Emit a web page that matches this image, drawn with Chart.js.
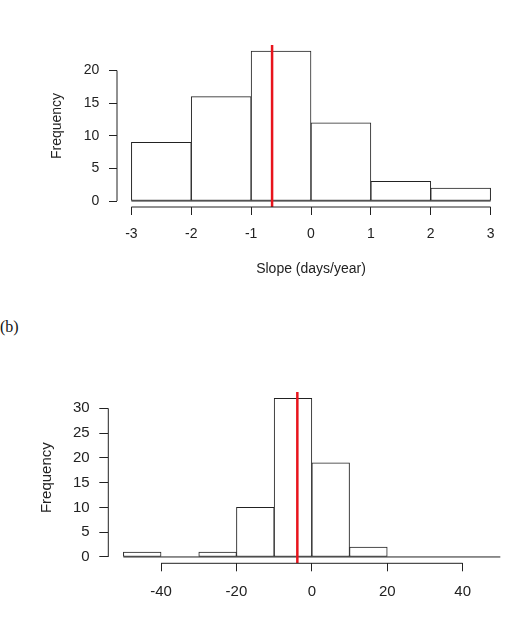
<!DOCTYPE html>
<html><head><meta charset="utf-8">
<script src="https://cdn.jsdelivr.net/npm/chart.js@4"></script>
<style>
html,body{margin:0;padding:0;background:#fff;overflow:hidden;width:510px;height:622px;position:relative;}
.wrap{position:absolute;left:0;}
#b{position:absolute;left:0;top:318px;font:16px 'Liberation Serif','Times New Roman',serif;line-height:18px;color:#111;}
</style></head><body>
<div class="wrap" style="top:0;width:510px;height:300px"><canvas id="c1" width="510" height="300" style="width:510px;height:300px"></canvas></div>
<div id="b">(b)</div>
<div class="wrap" style="top:300px;width:520px;height:322px"><canvas id="c2" width="520" height="322" style="width:520px;height:322px"></canvas></div>
<script>
// ---- Data ----
const topBinEdges = [-3, -2, -1, 0, 1, 2, 3];
const topCounts   = [9, 16, 23, 12, 3, 2];
const topMean     = -0.65;
const topXTicks   = [-3, -2, -1, 0, 1, 2, 3];
const topYTicks   = [0, 5, 10, 15, 20];
const topXTitle   = 'Slope (days/year)';
const topYTitle   = 'Frequency';

const botBinEdges = [-50, -40, -30, -20, -10, 0, 10, 20, 30, 40, 50];
const botCounts   = [1, 0, 1, 10, 32, 19, 2, 0, 0, 0];
const botMean     = -3.85;
const botXTicks   = [-40, -20, 0, 20, 40];
const botYTicks   = [0, 5, 10, 15, 20, 25, 30];
const botYTitle   = 'Frequency';

const INK = '#222';
const FONT = "'Liberation Sans', Arial, Helvetica, sans-serif";

const axisLines = {
  id: 'axisLines',
  afterDraw(chart) {
    const ctx = chart.ctx;
    const xs = chart.scales.x, ys = chart.scales.y;
    ctx.save();
    ctx.strokeStyle = INK;
    ctx.lineWidth = 1;
    const xt = xs.ticks, yt = ys.ticks;
    const xa = xs.getPixelForValue(xt[0].value), xb = xs.getPixelForValue(xt[xt.length - 1].value);
    ctx.beginPath(); ctx.moveTo(xa, xs.top); ctx.lineTo(xb, xs.top); ctx.stroke();
    const ya = ys.getPixelForValue(yt[0].value), yb = ys.getPixelForValue(yt[yt.length - 1].value);
    ctx.beginPath(); ctx.moveTo(ys.right, ya); ctx.lineTo(ys.right, yb); ctx.stroke();
    ctx.restore();
  }
};

function makeHist(id, c) {
  const edges = c.edges, counts = c.counts;
  const lo = edges[0], hi = edges[edges.length - 1], span = hi - lo;
  const xMin = lo - 0.04 * span, xMax = hi + 0.04 * span;
  const maxC = Math.max(...counts);
  const yMin = -0.04 * maxC, yMax = 1.04 * maxC;
  const bars = counts.map((v, i) => ({ x: (edges[i] + edges[i + 1]) / 2, y: v }));
  return new Chart(document.getElementById(id), {
    type: 'bar',
    data: {
      datasets: [
        { type: 'line', data: [{ x: c.mean, y: yMin }, { x: c.mean, y: yMax }],
          borderColor: '#e8141c', borderWidth: 2.5, pointRadius: 0, order: 0 },
        { type: 'line', data: [{ x: lo, y: 0 }, { x: hi, y: 0 }],
          borderColor: INK, borderWidth: 1, pointRadius: 0, order: 1 },
        { type: 'bar', data: bars, backgroundColor: '#fff', borderColor: INK,
          borderWidth: 1, borderSkipped: false, barPercentage: 1, categoryPercentage: 1,
          grouped: false, order: 2 }
      ]
    },
    options: {
      responsive: false, animation: false, devicePixelRatio: 1,
      layout: { padding: c.pad },
      plugins: { legend: { display: false }, tooltip: { enabled: false } },
      scales: {
        x: {
          type: 'linear', min: xMin, max: xMax, offset: false,
          afterBuildTicks: s => { s.ticks = c.xTicks.map(v => ({ value: v })); },
          afterFit: s => { s.height = c.xH; },
          ticks: { autoSkip: false, maxRotation: 0, padding: c.xLabPad, color: INK,
                   font: { family: FONT, size: c.fs }, callback: v => String(v) },
          grid: { display: true, offset: false, drawOnChartArea: false, drawTicks: true, tickLength: c.xTick, color: INK, lineWidth: 1 },
          border: { display: false },
          title: { display: !!c.xTitle, text: c.xTitle || '', color: INK,
                   font: { family: FONT, size: c.fs }, padding: { top: 0, bottom: c.xTitlePad } }
        },
        y: {
          type: 'linear', min: yMin, max: yMax,
          afterBuildTicks: s => { s.ticks = c.yTicks.map(v => ({ value: v })); },
          afterFit: s => { s.width = c.yW; },
          ticks: { autoSkip: false, padding: c.yLabPad, color: INK,
                   font: { family: FONT, size: c.fs }, callback: v => String(v) },
          grid: { display: true, offset: false, drawOnChartArea: false, drawTicks: true, tickLength: c.yTick, color: INK, lineWidth: 1 },
          border: { display: false },
          title: { display: true, text: c.yTitle, color: INK,
                   font: { family: FONT, size: c.fs }, padding: { top: c.yTitlePad, bottom: 0 } }
        }
      }
    },
    plugins: [axisLines]
  });
}

makeHist('c1', {
  edges: topBinEdges, counts: topCounts, mean: topMean,
  xTicks: topXTicks, yTicks: topYTicks, xTitle: topXTitle, yTitle: topYTitle,
  fs: 14, pad: { top: 45, right: 5, left: 0, bottom: 0 },
  xH: 93, yW: 117, xTick: 8, yTick: 8, xLabPad: 10.6, yLabPad: 9.7,
  xTitlePad: 22.6, yTitlePad: 48.6
});

makeHist('c2', {
  edges: botBinEdges, counts: botCounts, mean: botMean,
  xTicks: botXTicks, yTicks: botYTicks, xTitle: null, yTitle: botYTitle,
  fs: 15, pad: { top: 92, right: 4.6, left: 0, bottom: 0 },
  xH: 58.7, yW: 108.3, xTick: 8, yTick: 9, xLabPad: 11.4, yLabPad: 9.7,
  xTitlePad: 0, yTitlePad: 37.7
});
</script>
</body></html>
